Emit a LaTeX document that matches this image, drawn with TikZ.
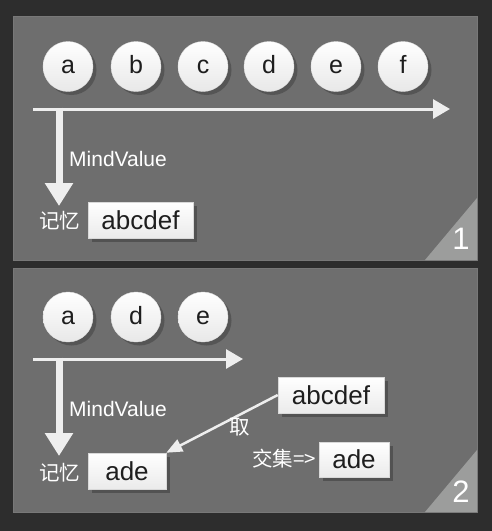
\documentclass[tikz,border=0pt]{standalone}
\usepackage{fontspec}
\setmainfont{Liberation Sans}
\newfontfamily\cjk{Noto Sans CJK SC}
\usetikzlibrary{arrows.meta,shadows}
\definecolor{bg}{HTML}{2D2D2D}
\definecolor{panel}{HTML}{6E6E6E}
\definecolor{paneledge}{HTML}{787878}
\definecolor{corner}{HTML}{9C9D9C}
\definecolor{linec}{HTML}{EEEEEE}
\definecolor{ink}{HTML}{1E1E1E}
\tikzset{
  panelbox/.style={fill=panel,draw=paneledge,line width=0.8pt},
  cornertri/.style={fill=corner},
  ball/.style={circle,minimum size=50pt,inner sep=0pt,top color=white,bottom color=black!9,
    draw=black!12,line width=0.4pt,text=ink,font=\fontsize{25}{25}\selectfont,
    text height=14pt,text depth=0pt,
    drop shadow={shadow xshift=3.5pt,shadow yshift=-3.5pt,opacity=0.22,fill=black}},
  valbox/.style={rectangle,inner sep=0pt,minimum height=36pt,top color=white,bottom color=black!8,
    draw=black!15,line width=0.5pt,text=ink,font=\fontsize{26}{26}\selectfont,
    text height=18pt,text depth=0pt,
    drop shadow={shadow xshift=4pt,shadow yshift=-4pt,opacity=0.25,fill=black}},
  lbl/.style={text=white,inner sep=0pt,font=\fontsize{21}{21}\selectfont},
  cjklbl/.style={text=white,inner sep=0pt,font=\cjk\fontsize{20.5}{20.5}\selectfont},
  numlbl/.style={text=white,inner sep=0pt,font=\fontsize{31}{31}\selectfont},
  timeline/.style={draw=linec,line width=3pt,-{Triangle[width=19pt,length=17pt]}},
  downarrow/.style={draw=linec,line width=7pt,-{Triangle[width=27pt,length=23pt]}},
  takearrow/.style={draw=linec,line width=2.5pt,-{Triangle[width=13pt,length=16pt]}}
}
\begin{document}
\begin{tikzpicture}[x=1pt,y=-1pt]
\fill[bg] (0,0) rectangle (492,531);
\useasboundingbox (0,0) rectangle (492,531);
% ---------- panel 1 ----------
\draw[panelbox] (13,16) rectangle (477,260);
\fill[cornertri] (477,198) -- (477,260) -- (425,260) -- cycle;
\node[numlbl] (n1) at (461,239) {1};
\node[ball] (a1) at (68,66.5) {a};
\node[ball] (b1) at (136,66.5) {b};
\node[ball] (c1) at (203,66.5) {c};
\node[ball] (d1) at (269,66.5) {d};
\node[ball] (e1) at (336,66.5) {e};
\node[ball] (f1) at (403,66.5) {f};
\coordinate (t1s) at (33,109);
\coordinate (t1e) at (450,109);
\coordinate (v1s) at (59,107.5);
\coordinate (v1e) at (59,206);
\draw[timeline] (t1s) -- (t1e);
\draw[downarrow] (v1s) -- (v1e);
\node[lbl,anchor=base west] (mv1) at (69,166) {MindValue};
\node[cjklbl] (mem1) at (59.5,221) {记忆};
\node[valbox,minimum width=105pt] (m1) at (140.5,220) {abcdef};
% ---------- panel 2 ----------
\draw[panelbox] (13,268) rectangle (477,512);
\fill[cornertri] (477,450) -- (477,512) -- (425,512) -- cycle;
\node[numlbl] (n2) at (461,492) {2};
\node[ball] (a2) at (68,317) {a};
\node[ball] (d2) at (136,317) {d};
\node[ball] (e2) at (203,317) {e};
\coordinate (t2s) at (33,359);
\coordinate (t2e) at (243,359);
\coordinate (v2s) at (59,357.5);
\coordinate (v2e) at (59,456);
\draw[timeline] (t2s) -- (t2e);
\draw[downarrow] (v2s) -- (v2e);
\node[lbl,anchor=base west] (mv2) at (69,416) {MindValue};
\node[cjklbl] (mem2) at (59.5,473) {记忆};
\node[valbox,minimum width=78pt] (m2) at (127,471) {ade};
\node[valbox,minimum width=106pt] (all2) at (331,395) {abcdef};
\draw[takearrow] (all2.west) -- (m2.north east);
\node[cjklbl] (take) at (240,427) {取};
\node[cjklbl] (inter) at (284,459) {交集=>};
\node[valbox,minimum width=70pt,minimum height=35pt] (res2) at (354,459.5) {ade};
\end{tikzpicture}
\end{document}
